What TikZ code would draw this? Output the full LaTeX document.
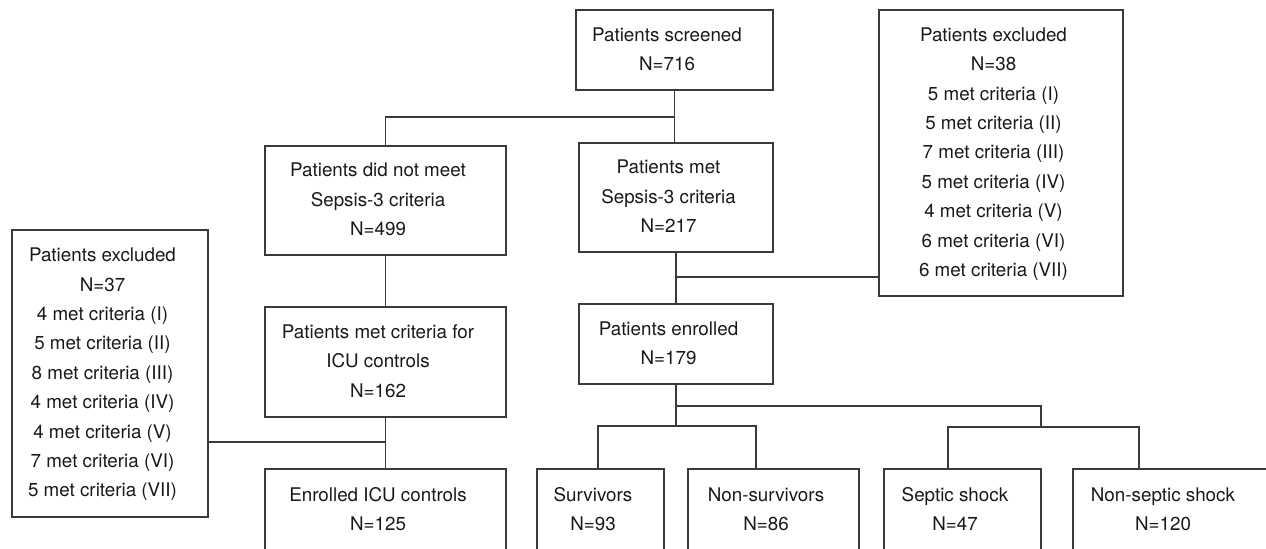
\documentclass[tikz,border=0pt]{standalone}
\usepackage{fontspec}
\setmainfont{TeX Gyre Heros}
\usepackage{tikz}

\definecolor{framegray}{HTML}{3A3A3A}
\newcommand{\boxlines}[1]{\begin{tabular}{@{}c@{}}#1\end{tabular}\hspace*{7.5pt}}

\begin{document}
\begin{tikzpicture}[x=0.5pt,y=-0.5pt,
  box/.style={draw=framegray, line width=0.55pt, inner sep=0pt, text=black!90,
    font=\fontsize{9.4}{14.7}\selectfont},
  link/.style={draw=framegray, line width=0.55pt}]

\useasboundingbox (0,0) rectangle (1266,548);

% screening
\node[box, minimum width=98.5pt, minimum height=40pt] (screened) at (674.5,50) {\boxlines{Patients screened\\N=716}};
\node[box, minimum width=120.5pt, minimum height=54.5pt] (notmet) at (385.5,200.5) {\boxlines{Patients did not meet\\Sepsis-3 criteria\\N=499}};
\node[box, minimum width=97pt, minimum height=54.5pt] (met) at (676,197.5) {\boxlines{Patients met\\Sepsis-3 criteria\\N=217}};
\node[box, minimum width=122pt, minimum height=143pt] (excl38) at (1001,153) {\boxlines{Patients excluded\\N=38\\5 met criteria (I)\\5 met criteria (II)\\7 met criteria (III)\\5 met criteria (IV)\\4 met criteria (V)\\6 met criteria (VI)\\6 met criteria (VII)}};

% controls
\node[box, minimum width=120.5pt, minimum height=55pt] (criteria) at (385.5,362) {\boxlines{Patients met criteria for\\ICU controls\\N=162}};
\node[box, minimum width=98pt, minimum height=143.5pt] (excl37) at (110,373.5) {\boxlines{Patients excluded\\N=37\\4 met criteria (I)\\5 met criteria (II)\\8 met criteria (III)\\4 met criteria (IV)\\4 met criteria (V)\\7 met criteria (VI)\\5 met criteria (VII)}};
\node[box, minimum width=120.5pt, minimum height=41pt] (icu) at (385.5,510) {\boxlines{Enrolled ICU controls\\N=125}};

% enrolled patients
\node[box, minimum width=97pt, minimum height=40pt] (enrolled) at (676,344) {\boxlines{Patients enrolled\\N=179}};
\node[box, minimum width=63.5pt, minimum height=41pt] (surv) at (600.5,510) {\boxlines{Survivors\\N=93}};
\node[box, minimum width=85.5pt, minimum height=41pt] (nonsurv) at (773.5,510) {\boxlines{Non-survivors\\N=86}};
\node[box, minimum width=78.5pt, minimum height=41pt] (septic) at (962.5,510) {\boxlines{Septic shock\\N=47}};
\node[box, minimum width=97.5pt, minimum height=41pt] (nonseptic) at (1170.5,510) {\boxlines{Non-septic shock\\N=120}};

\coordinate (split) at (675,117);
\coordinate (join37) at (385.5,442);
\coordinate (join38) at (676,277);
\coordinate (fork) at (676,426);
\coordinate (mortL) at (598,426);
\coordinate (mortR) at (756,426);
\coordinate (shockbranch) at (676,406);
\coordinate (shockdrop) at (1041,406);
\coordinate (shockL) at (948,427);
\coordinate (shockR) at (1139,427);

\draw[link] (screened.south) -- (screened.south |- met.north);
\draw[link] (split) -| (notmet.north);
\draw[link] (notmet) -- (criteria);
\draw[link] (criteria) -- (icu);
\draw[link] (excl37.east |- join37) -- (join37);
\draw[link] (met) -- (enrolled);
\draw[link] (join38) -- (join38 -| excl38.west);
\draw[link] (enrolled.south) -- (fork);
\draw[link] (mortL |- surv.north) -- (mortL) -- (mortR) -- (mortR |- nonsurv.north);
\draw[link] (shockbranch) -- (shockdrop) -- (shockdrop |- shockL);
\draw[link] (shockL |- septic.north) -- (shockL) -- (shockR) -- (shockR |- nonseptic.north);

\end{tikzpicture}
\end{document}
